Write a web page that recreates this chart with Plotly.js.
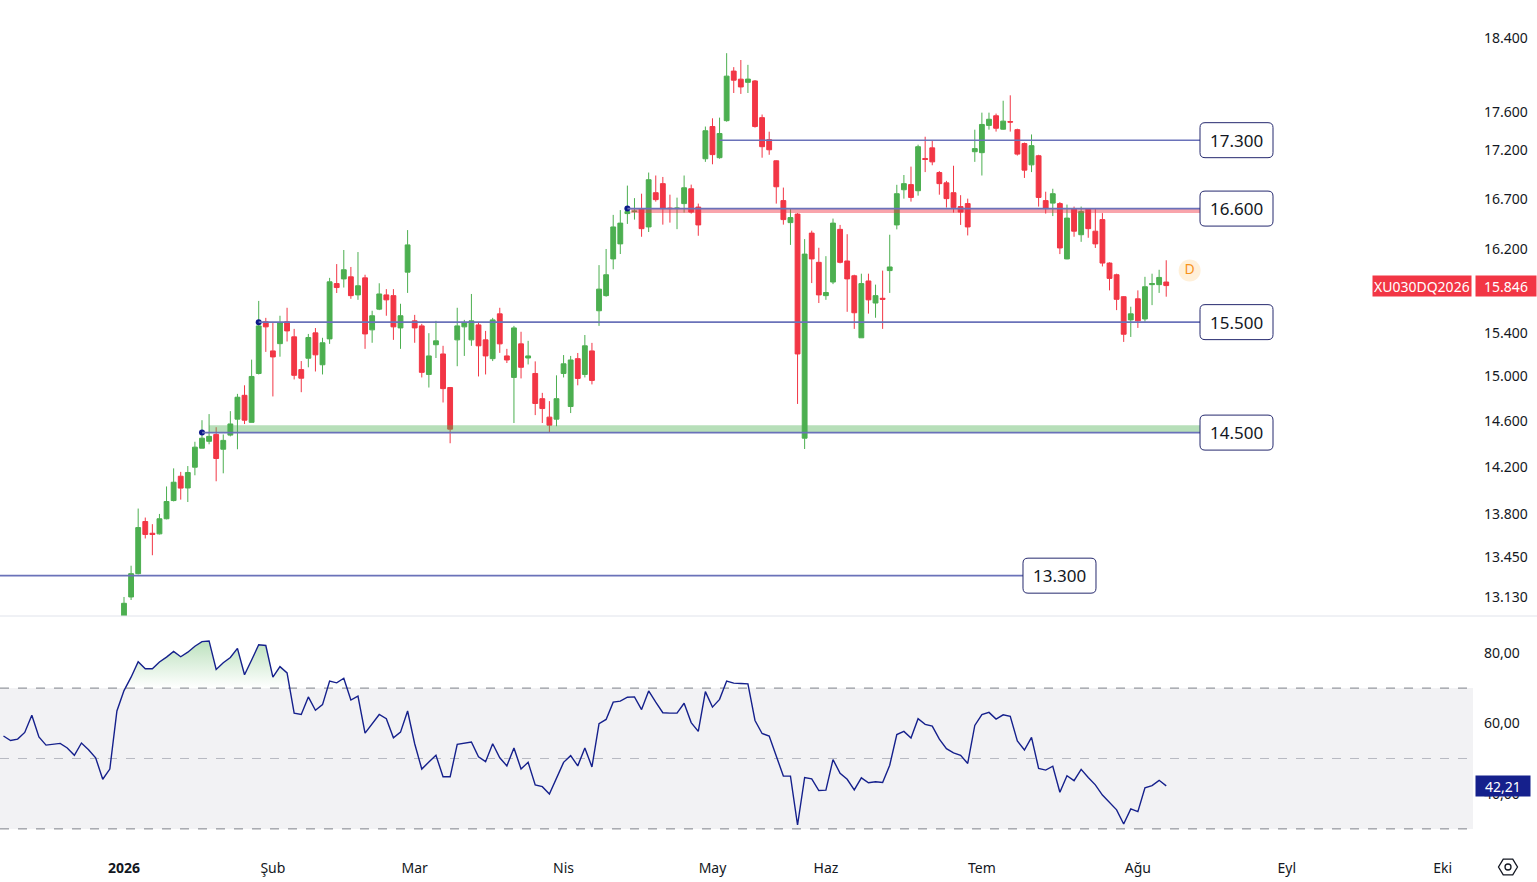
<!DOCTYPE html>
<html><head><meta charset="utf-8">
<script src="https://cdn.plot.ly/plotly-3.0.1.min.js"></script>
<style>html,body{margin:0;padding:0;background:#fff;overflow:hidden}#chart{width:1537px;height:882px}</style>
</head><body><div id="chart"></div>
<script>
// ---------- DATA ----------
const symbolName = 'XU030DQ2026';
const opens = [12920,13130,13316,13742,13645,13640,13765,13917,14123,14023,14200,14364,14424,14484,14355,14478,14618,14830,14590,15027,
15503,15233,15300,15503,15363,15062,15166,15400,15106,15344,15865,15910,15930,15757,15920,15428,15622,15757,15750,15446,
15975,15512,15465,15018,15290,15205,14900,15335,15456,15335,15474,15335,15162,15578,15187,14991,15298,15168,15027,14800,
14636,14618,15027,14730,15162,15018,15233,15607,15750,16103,16250,16550,16570,16600,16417,16760,16852,16605,16600,16650,
16800,16615,17107,17443,17118,17505,18037,17949,17915,17930,17537,17305,17086,16680,16460,16545,14451,16356,16070,15750,
15880,16393,16083,15940,15354,15890,15680,15725,15990,16437,16790,16842,16780,17110,17220,16965,16860,16760,16620,16650,
17180,17170,17455,17557,17415,17495,17410,17265,17044,17138,16680,16655,16650,16103,16600,16340,16600,16375,16490,16063,
15950,15740,15521,15720,15530,15855,15855,15880];
const highs = [13130,13380,13850,13775,13720,13805,14036,14190,14160,14210,14420,14609,14663,14547,14484,14689,14843,14920,15153,15700,
15540,15493,15560,15635,15437,15140,15390,15445,15354,15920,16053,16190,16025,16170,15950,15607,15868,15812,15812,15673,
16386,15568,15484,15397,15512,15280,14905,15635,15521,15766,15493,15418,15540,15635,15252,15465,15410,15326,15137,14852,
14778,15010,15195,15187,15214,15380,15307,16043,16200,16537,16585,16832,16705,16750,16965,16935,16920,16740,16710,16935,
16842,16650,17443,17530,17537,18233,18080,18158,18105,17940,17570,17389,17090,16812,16600,16555,16297,16380,16212,16130,
16500,16437,16345,15950,15960,15960,15855,15990,16340,16840,16940,17026,17253,17336,17294,16980,16880,17035,16735,16700,
17410,17590,17590,17580,17717,17775,17420,17275,17360,17148,16770,16800,16665,16640,16620,16620,16605,16600,16555,16070,
15960,15745,15645,15800,15930,15960,15998,16090];
const lows = [12880,13106,13310,13602,13465,13635,13760,13910,13925,13905,14131,14364,14398,14080,14148,14467,14355,14575,14590,15018,
15224,14820,15180,15320,14973,14858,15083,15045,15018,15298,15775,15827,15720,15710,15252,15308,15613,15560,15335,15252,
15776,15308,14991,14900,15168,14766,14407,15093,15187,15280,15000,15018,15140,15215,15122,14584,14982,15109,14654,14584,
14503,14556,14991,14672,14920,14991,14928,15465,15740,16003,16151,16447,16490,16320,16367,16670,16440,16460,16395,16560,
16550,16330,17075,17050,17107,17494,17800,17790,17800,17432,17118,17148,16650,16440,16240,14753,14357,15870,15680,15710,
15860,16060,15597,15437,15354,15580,15541,15437,15776,16393,16700,16670,16730,16970,17040,16740,16610,16560,16437,16333,
17075,16935,17410,17390,17410,17390,17140,16910,16970,16620,16550,16525,16150,16100,16320,16270,16310,16210,16030,15800,
15613,15316,15362,15446,15505,15660,15776,15740];
const closes = [13080,13316,13692,13635,13635,13765,13909,14072,14022,14155,14373,14451,14467,14275,14432,14576,14813,14609,15000,15465,
15456,15178,15493,15418,15010,14984,15357,15197,15308,15882,15827,15998,15750,15844,15390,15560,15766,15710,15456,15560,
16240,15446,15037,15187,15326,14890,14530,15465,15493,15512,15280,15187,15521,15298,15150,15446,15083,15187,14757,14712,
14565,14800,15115,15150,14982,15280,14964,15812,15950,16417,16455,16570,16575,16400,16892,16690,16600,16600,16605,16810,
16565,16437,17399,17150,17370,17982,17938,17865,17950,17443,17232,17200,16820,16490,16510,15205,16150,16103,15757,15780,
16455,16070,15910,15588,15865,15710,15750,15715,16025,16750,16852,16712,17232,17100,17075,16852,16700,16610,16565,16417,
17212,17465,17520,17425,17500,17490,17155,16990,17243,16712,16600,16750,16210,16505,16375,16570,16400,16250,16063,15915,
15715,15387,15578,15512,15835,15865,15924,15846];

// RSI(14): first value belongs to the bar 17 bars before the first visible candle
const rsiStartBar = -17;
const rsiValues = [56.4,55.1,55.5,57.4,62.3,56.1,53.8,54.0,54.3,53.0,50.9,54.4,52.5,50.2,44.1,47.0,63.5,
69.3,73.1,77.5,75.5,75.5,77.4,78.8,80.4,78.9,80.2,81.9,83.2,83.4,75.3,77.2,78.7,81.3,73.8,78.0,82.3,
82.1,73.1,76.1,74.3,62.9,62.5,67.5,63.7,65.3,72.0,71.5,72.8,66.6,67.7,57.2,59.9,62.5,61.3,55.9,57.5,
63.5,54.2,47.0,49.0,50.9,44.8,44.8,54.0,54.3,54.7,50.5,49.1,54.2,50.2,47.9,53.0,47.0,48.9,42.5,42.0,
39.9,44.3,48.9,50.8,47.9,53.0,47.6,59.9,61.1,66.0,66.3,67.4,67.5,63.9,69.2,66.0,63.0,62.9,62.9,65.7,
60.2,57.7,69.0,64.6,66.8,72.0,71.4,71.3,71.2,60.8,57.1,56.4,50.5,45.0,45.0,31.1,44.6,44.2,40.9,41.0,
49.7,45.8,44.1,41.1,44.5,43.1,43.4,43.2,48.1,56.8,57.7,55.8,61.3,59.7,59.2,55.5,52.8,51.6,50.9,48.6,
59.4,62.5,63.1,61.2,62.4,62.0,55.0,52.4,56.0,47.2,46.7,47.8,40.4,45.1,43.7,46.9,44.6,42.5,39.6,37.5,
35.4,31.4,35.7,34.9,41.7,42.3,43.8,42.21];

const monthTickBars = [0,21,41,62,83,99,121,143,164,186];
const monthTickLabels = ['<b>2026</b>','Şub','Mar','Nis','May','Haz','Tem','Ağu','Eyl','Eki'];
const priceTicks = [18400,17600,17200,16700,16200,15400,15000,14600,14200,13800,13450,13130];
const rsiTicks = [40,60,80];
const rsiBands = [30,50,70];

const levelPrices = [17300,16600,15500,14500,13300];
const levelStartBars = [84,71,19,11,-18];      // bar where each drawn level starts
const anchorBars = [71,19,11];                 // blue anchor points of the drawings
const anchorPrices = [16600,15500,14500];
const zonePrices = [[16555,16600],[14500,14565]];   // red / green zones
const eventBar = 150.3, eventPrice = 15990, eventLabel = 'D';

// ---------- HELPERS ----------
const fmtPrice = v => Math.round(v).toString().replace(/\B(?=(\d{3})+(?!\d))/g, '.');
const fmtRsi = v => v.toFixed(2).replace('.', ',');
const barIdx = closes.map((_, k) => k);
const rsiX = rsiValues.map((_, k) => rsiStartBar + k);

// layout geometry (pixels)
const W = 1537, H = 882, MB = 34, PH = H - MB;
const plotRightPx = 1473, sepPx = 616;
const pxPerBar = 7.09, firstBarPx = 124;
const xMin = -firstBarPx / pxPerBar, xMax = (plotRightPx - firstBarPx) / pxPerBar;
const logMin = Math.log10(12980), logMax = Math.log10(18828);
const labelBar = (1236.5 - firstBarPx) / pxPerBar;
const labelBarLow = (1059.5 - firstBarPx) / pxPerBar;
const barToPx = b => firstBarPx + b * pxPerBar;
const priceToPx = p => sepPx * (logMax - Math.log10(p)) / (logMax - logMin);

// overbought fill (clip at 70 with exact crossings)
const ob = 70, fx = [], fy = [];
for (let k = 0; k < rsiValues.length; k++) {
  const v = rsiValues[k];
  if (k > 0) {
    const p = rsiValues[k - 1];
    if ((p - ob) * (v - ob) < 0) { const t = (ob - p) / (v - p); fx.push(rsiX[k - 1] + t); fy.push(ob); }
  }
  fx.push(rsiX[k]); fy.push(Math.max(v, ob));
}

const lineCol = '#6a72b9';
const navy = '#15208c';

const traces = [
  {type:'candlestick', x:barIdx, open:opens, high:highs, low:lows, close:closes,
   increasing:{line:{color:'#4caf50', width:1}, fillcolor:'#4caf50'},
   decreasing:{line:{color:'#f23645', width:1}, fillcolor:'#f23645'},
   whiskerwidth:0, hoverinfo:'skip', showlegend:false, xaxis:'x', yaxis:'y'},
  {type:'scatter', mode:'markers', x:anchorBars, y:anchorPrices, marker:{size:6, color:'#0c1a8a'},
   hoverinfo:'skip', showlegend:false, xaxis:'x', yaxis:'y'},
  {type:'scatter', mode:'markers+text', x:[eventBar], y:[eventPrice], text:[eventLabel],
   textposition:'middle center', textfont:{color:'#f7931a', size:14, family:'"Noto Sans", sans-serif'},
   marker:{size:22, color:'rgba(255,152,0,0.15)'}, hoverinfo:'skip', showlegend:false, xaxis:'x', yaxis:'y'},
  {type:'scatter', mode:'lines', x:[rsiX[0], rsiX[rsiX.length-1]], y:[ob, ob], line:{width:0, color:'rgba(0,0,0,0)'},
   hoverinfo:'skip', showlegend:false, xaxis:'x', yaxis:'y2'},
  {type:'scatter', mode:'lines', x:fx, y:fy, line:{width:0, color:'rgba(0,0,0,0)'}, fill:'tonexty',
   fillgradient:{type:'vertical', start:70, stop:88, colorscale:[[0,'rgba(76,175,80,0)'],[1,'rgba(76,175,80,0.5)']]},
   hoverinfo:'skip', showlegend:false, xaxis:'x', yaxis:'y2'},
  {type:'scatter', mode:'lines', x:rsiX, y:rsiValues, line:{color:navy, width:1.4},
   hoverinfo:'skip', showlegend:false, xaxis:'x', yaxis:'y2'}
];

const shapes = [];
// separator between panes
shapes.push({type:'line', xref:'paper', yref:'paper', x0:0, x1:1, y0:(PH - sepPx)/PH, y1:(PH - sepPx)/PH,
  line:{color:'#e0e3eb', width:1}});
// RSI background band and dashed levels
shapes.push({type:'rect', xref:'x domain', yref:'y2', x0:0, x1:1, y0:rsiBands[0], y1:rsiBands[2],
  fillcolor:'#f2f2f4', line:{width:0}, layer:'below'});
rsiBands.forEach((b, k) => shapes.push({type:'line', xref:'x domain', yref:'y2', x0:0, x1:1, y0:b, y1:b,
  line:{color: k === 1 ? '#b8bac2' : '#7d8089', width:1, dash:'dash'}, layer:'below'}));
// zones
zonePrices.forEach((z, k) => shapes.push({type:'rect', xref:'x', yref:'y',
  x0: k === 0 ? 71.5 : 12, x1: labelBar, y0:z[0], y1:z[1],
  fillcolor: k === 0 ? 'rgba(242,54,69,0.45)' : 'rgba(76,175,80,0.4)', line:{width:0}}));
// horizontal levels
levelPrices.forEach((p, k) => shapes.push({type:'line', xref:'x', yref:'y',
  x0: Math.max(levelStartBars[k], xMin), x1: k === 4 ? labelBarLow : labelBar, y0:p, y1:p,
  line:{color:lineCol, width:1.6}}));

// rounded label boxes (paper coordinates built from pixel geometry)
function roundRectPath(cx, cy, w, h, r) {
  const X = px => (px / W).toFixed(6), Y = py => ((PH - py) / PH).toFixed(6);
  const l = cx - w / 2, rt = cx + w / 2, t = cy - h / 2, b = cy + h / 2;
  return 'M' + X(l + r) + ',' + Y(t) + ' L' + X(rt - r) + ',' + Y(t) +
    ' Q' + X(rt) + ',' + Y(t) + ' ' + X(rt) + ',' + Y(t + r) +
    ' L' + X(rt) + ',' + Y(b - r) + ' Q' + X(rt) + ',' + Y(b) + ' ' + X(rt - r) + ',' + Y(b) +
    ' L' + X(l + r) + ',' + Y(b) + ' Q' + X(l) + ',' + Y(b) + ' ' + X(l) + ',' + Y(b - r) +
    ' L' + X(l) + ',' + Y(t + r) + ' Q' + X(l) + ',' + Y(t) + ' ' + X(l + r) + ',' + Y(t) + ' Z';
}
levelPrices.forEach((p, k) => {
  const cx = barToPx(k === 4 ? labelBarLow : labelBar), cy = priceToPx(p);
  shapes.push({type:'path', xref:'paper', yref:'paper', path:roundRectPath(cx, cy, 73, 35, 5),
    fillcolor:'#ffffff', line:{color:'#25296e', width:1}, layer:'above'});
});

// settings icon (hexagon + circle) bottom right
(function(){
  const cx = 1508, cy = 867, r = 9.5;
  let d = '';
  for (let a = 0; a < 6; a++) {
    const ang = a * Math.PI / 3;
    const px = cx + r * Math.cos(ang), py = cy + r * Math.sin(ang) * 0.95;
    d += (a === 0 ? 'M' : 'L') + (px / W) + ',' + ((PH - py) / PH);
  }
  d += 'Z';
  shapes.push({type:'path', xref:'paper', yref:'paper', path:d, line:{color:'#131722', width:1.3}});
  shapes.push({type:'circle', xref:'paper', yref:'paper', x0:(cx-3)/W, x1:(cx+3)/W, y0:(PH-cy-3)/PH, y1:(PH-cy+3)/PH,
    line:{color:'#131722', width:1.3}});
})();

const annotations = [];
levelPrices.forEach((p, k) => annotations.push({xref:'x', yref:'y', x: k === 4 ? labelBarLow : labelBar,
  y: Math.log10(p), text: fmtPrice(p), showarrow:false, font:{size:17, color:'#131722'}}));
const lastClose = closes[closes.length - 1];
annotations.push({xref:'paper', yref:'y', x:(plotRightPx - 1)/W, xanchor:'right', y:Math.log10(lastClose),
  text:symbolName, showarrow:false, bgcolor:'#f23645', font:{size:14, color:'#ffffff'}, borderpad:1, height:18});
annotations.push({xref:'paper', yref:'y', x:(plotRightPx + 2)/W, xanchor:'left', y:Math.log10(lastClose),
  text:fmtPrice(lastClose), showarrow:false, bgcolor:'#f23645', font:{size:14, color:'#ffffff'}, borderpad:1, width:58, height:18});
const lastRsi = rsiValues[rsiValues.length - 1];
annotations.push({xref:'paper', yref:'y2', x:(plotRightPx + 2)/W, xanchor:'left', y:lastRsi,
  text:fmtRsi(lastRsi), showarrow:false, bgcolor:navy, font:{size:14, color:'#ffffff'}, borderpad:1, width:52, height:18});

const layout = {
  width:W, height:H, margin:{l:0, r:0, t:0, b:MB}, paper_bgcolor:'#ffffff', plot_bgcolor:'rgba(0,0,0,0)',
  showlegend:false, boxgap:0.32, boxgroupgap:0,
  font:{family:'"Noto Sans", Roboto, sans-serif', size:14, color:'#131722'},
  xaxis:{domain:[0, plotRightPx / W], range:[xMin, xMax], anchor:'y2', type:'linear',
    tickvals:monthTickBars, ticktext:monthTickLabels, showgrid:false, zeroline:false, showline:false, ticks:'',
    ticklabelstandoff:10, rangeslider:{visible:false}, tickfont:{size:14, color:'#131722'}},
  yaxis:{domain:[(PH - sepPx)/PH, 1], type:'log', range:[logMin, logMax], side:'right', anchor:'x',
    tickvals:priceTicks, ticktext:priceTicks.map(fmtPrice), showgrid:false, zeroline:false, showline:false, ticks:'',
    ticklabelstandoff:10, tickfont:{size:14, color:'#131722'}},
  yaxis2:{domain:[0, (PH - sepPx - 1)/PH], range:[24.57, 90.2], side:'right', anchor:'x',
    tickvals:rsiTicks, ticktext:rsiTicks.map(fmtRsi), showgrid:false, zeroline:false, showline:false, ticks:'',
    ticklabelstandoff:10, tickfont:{size:14, color:'#131722'}},
  shapes:shapes, annotations:annotations
};

Plotly.newPlot('chart', traces, layout, {displayModeBar:false, staticPlot:true});
</script></body></html>
